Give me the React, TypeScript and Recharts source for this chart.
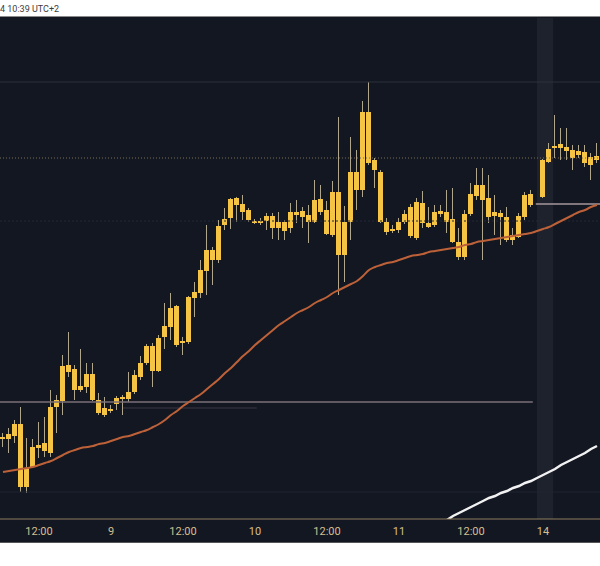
import { Bar, ComposedChart, Line, ReferenceArea, ReferenceLine, XAxis, YAxis } from "recharts";

// hourly sessions shown (weekend 12-13 skipped)
const sessions = [
  { day: 8, from: 6, to: 23 },
  { day: 9, from: 0, to: 23 },
  { day: 10, from: 0, to: 23 },
  { day: 11, from: 0, to: 23 },
  { day: 14, from: 0, to: 9 },
];

const tickIdx = [6, 18, 30, 42, 54, 66, 78, 90];
const tickLabels = ["12:00", "9", "12:00", "10", "12:00", "11", "12:00", "14"];

const opens = [
  80, 80, 83, 95, 32, 52, 71, 76, 66, 112,
  118, 154, 150, 129, 132, 145, 119, 111, 108, 115,
  120, 120, 127, 142, 156, 173, 148, 182, 192, 213,
  176, 177, 221, 226, 248, 269, 259, 294, 301, 321,
  315, 309, 298, 296, 298, 303, 291, 297, 291, 307,
  302, 304, 297, 320, 309, 284, 327, 264, 297, 347,
  329, 407, 359, 347, 297, 288, 289, 297, 312, 281,
  316, 296, 294, 305, 307, 300, 277, 262, 305, 323,
  334, 321, 307, 306, 302, 279, 282, 302, 314, null,
  322, 357, 371, 375, 372, 369, 364, 367, 362, 359,
];
const highs = [
  86, 91, 99, 112, 81, 80, 97, 102, 129, 124,
  164, 187, 154, 170, 156, 156, 126, 122, 114, 123,
  124, 147, 149, 163, 175, 176, 184, 216, 226, 214,
  182, 223, 237, 259, 294, 272, 299, 311, 321, 322,
  324, 311, 300, 301, 306, 306, 307, 299, 316, 319,
  312, 314, 339, 334, 318, 338, 402, 313, 382, 369,
  418, 437, 361, 349, 301, 294, 301, 309, 315, 321,
  328, 312, 314, 314, 329, 331, 291, 309, 336, 351,
  351, 344, 324, 309, 312, 291, 306, 327, 329, null,
  360, 376, 404, 391, 391, 374, 374, 374, 366, 376,
];
const lows = [
  72, 66, 76, 27, 26, 51, 61, 62, 62, 86,
  104, 142, 119, 127, 126, 118, 104, 102, 106, 109,
  104, 117, 125, 139, 154, 132, 147, 170, 179, 172,
  164, 175, 202, 221, 224, 234, 256, 289, 290, 297,
  299, 297, 295, 294, 289, 280, 279, 279, 286, 296,
  291, 276, 296, 304, 284, 282, 224, 237, 279, 309,
  322, 354, 331, 296, 284, 286, 286, 295, 281, 279,
  291, 291, 292, 302, 286, 276, 259, 259, 303, 319,
  259, 296, 284, 274, 277, 274, 281, 299, 312, null,
  321, 356, 361, 359, 359, 349, 361, 352, 339, 356,
];
const closes = [
  82, 85, 95, 32, 51, 72, 74, 68, 112, 119,
  153, 147, 129, 133, 145, 119, 106, 104, 110, 121,
  122, 127, 144, 156, 173, 148, 181, 193, 211, 174,
  178, 222, 227, 249, 269, 259, 293, 300, 320, 314,
  307, 299, 296, 298, 303, 291, 297, 288, 307, 304,
  308, 297, 319, 307, 285, 327, 264, 297, 347, 329,
  407, 356, 349, 297, 287, 290, 297, 305, 283, 317,
  296, 292, 307, 308, 297, 277, 262, 305, 325, 334,
  319, 302, 303, 302, 279, 284, 303, 324, 325, null,
  359, 370, 373, 371, 368, 361, 368, 356, 354, 363,
];
const movingAvg = [
  47, 48, 49, 50, 51, 52, 54, 56, 58, 61,
  64, 67, 69, 71, 72, 73, 75, 76, 78, 80,
  82, 83, 85, 87, 89, 92, 95, 99, 104, 108,
  113, 117, 121, 125, 130, 135, 140, 146, 151, 157,
  163, 168, 174, 179, 184, 189, 194, 198, 202, 206,
  209, 212, 216, 219, 222, 226, 229, 232, 235, 238,
  243, 249, 252, 254, 256, 257, 259, 261, 263, 264,
  265, 267, 268, 269, 270, 271, 272, 274, 275, 277,
  278, 279, 280, 281, 282, 283, 284, 285, 286, 288,
  290, 292, 295, 298, 301, 304, 307, 309, 312, 314,
];
// indicator line, visible from bar 74 on
const oscFrom = 74;
const osc = [-1, 3, 6, 9, 12, 15, 18, 21, 23, 26, 28, 31, 33, 36, 38, 41, 44, 47, 50, 54, 57, 60, 63, 66, 70, 73];

const times: string[] = [];
sessions.forEach((s) => {
  for (let h = s.from; h <= s.to; h++) times.push(`${s.day} ${String(h).padStart(2, "0")}:00`);
});

const rows = times.map((t, i) => ({
  i,
  t,
  o: opens[i],
  h: highs[i],
  l: lows[i],
  c: closes[i],
  range: opens[i] == null ? null : [lows[i], highs[i]],
  ma: movingAvg[i],
  osc: i >= oscFrom ? osc[i - oscFrom] : null,
}));

function Candle(props: any) {
  const { x, y, width, height, payload } = props;
  if (!payload || payload.o == null) return <g />;
  const top = Math.min(y, y + height);
  const bot = Math.max(y, y + height);
  const k = (bot - top) / (payload.h - payload.l || 1);
  const bt = top + (payload.h - Math.max(payload.o, payload.c)) * k;
  const bb = top + (payload.h - Math.min(payload.o, payload.c)) * k;
  const cx = x + width / 2;
  return (
    <g>
      <line x1={cx} x2={cx} y1={top} y2={bot} stroke="#b0a68e" strokeWidth={1} />
      <rect x={x} y={bt} width={width} height={Math.max(1.5, bb - bt)} fill="#f6c445" />
    </g>
  );
}

export default function App() {
  return (
    <div style={{ position: "absolute", left: 0, top: 0, width: 600, height: 566, background: "#fff", overflow: "hidden" }}>
      <div style={{ position: "absolute", left: 0, top: 3, fontFamily: "Roboto", fontSize: 9, color: "#3c3c3c", lineHeight: "12px" }}>
        4 10:39 UTC+2
      </div>
      <div style={{ position: "absolute", left: 0, top: 16, width: 600, height: 1, background: "#8a8a8a" }} />
      <div style={{ position: "absolute", left: 0, top: 17, width: 600, height: 525, background: "#131722", borderBottom: "1px solid #555" }} />
      <div style={{ position: "absolute", left: 0, top: 18 }}>
        <ComposedChart width={600} height={524} data={rows} margin={{ top: 0, right: 0, bottom: 0, left: 0 }}>
          <XAxis
            dataKey="i"
            type="number"
            domain={[-0.5, 99.5]}
            ticks={tickIdx}
            interval={0}
            tickFormatter={(v) => tickLabels[tickIdx.indexOf(v)]}
            height={23}
            axisLine={{ stroke: "#8f7d5c" }}
            tickLine={false}
            tick={{ fill: "#d6bf8e", fontSize: 11, fontFamily: "Roboto" }}
            allowDataOverflow
          />
          <YAxis hide type="number" domain={[0, 501]} allowDataOverflow />
          <ReferenceArea x1={89} x2={91.7} fill="#1e222d" fillOpacity={1} stroke="none" />
          <ReferenceLine y={437} stroke="#2c303b" />
          <ReferenceLine y={361} stroke="#7a6c50" strokeDasharray="1 2" />
          <ReferenceLine y={298} stroke="#252935" strokeDasharray="2 2" />
          <ReferenceLine y={27} stroke="#1f2430" />
          <ReferenceLine segment={[{ x: -0.5, y: 117 }, { x: 88.3, y: 117 }]} stroke="#7b7077" strokeWidth={1.5} />
          <ReferenceLine segment={[{ x: 20, y: 111 }, { x: 42.3, y: 111 }]} stroke="#3a3942" />
          <ReferenceLine segment={[{ x: 88.8, y: 315 }, { x: 99.5, y: 315 }]} stroke="#a6979a" strokeWidth={1.5} />
          <Bar dataKey="range" barSize={5} shape={(p: any) => <Candle {...p} />} isAnimationActive={false} />
          <Line dataKey="ma" type="monotone" stroke="#bd6139" strokeWidth={2} dot={false} isAnimationActive={false} />
          <Line dataKey="osc" type="linear" stroke="#f2f2f2" strokeWidth={2.5} dot={false} isAnimationActive={false} />
        </ComposedChart>
      </div>
    </div>
  );
}
